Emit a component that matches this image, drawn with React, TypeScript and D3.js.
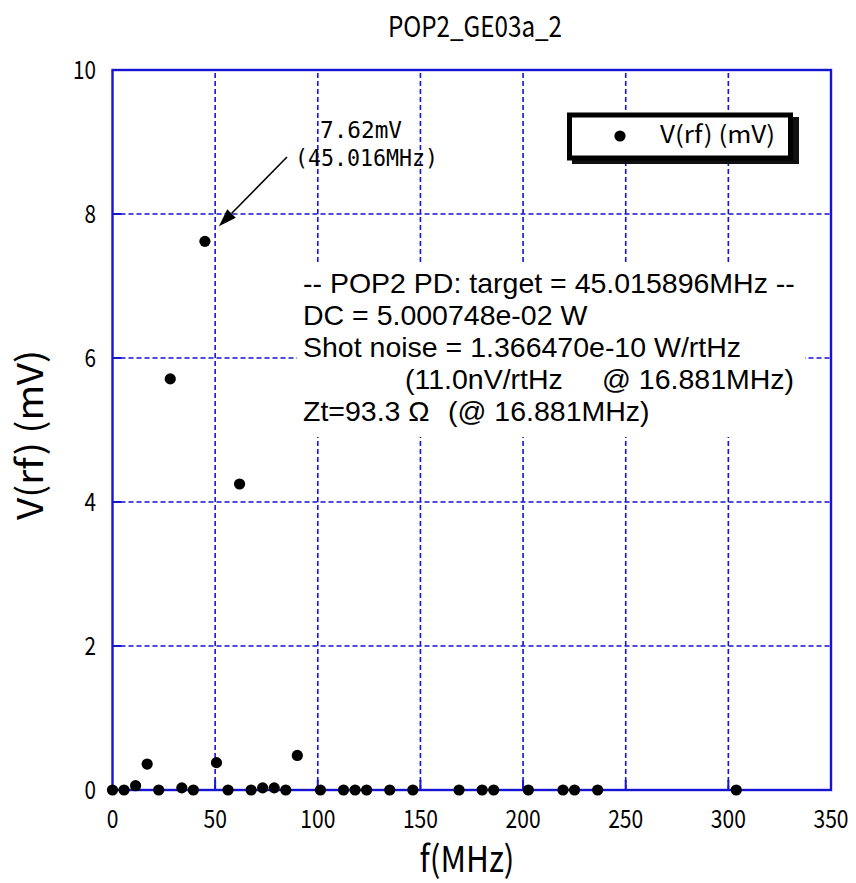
import React from 'react';
import * as d3 from 'd3';

const freqMHz = [0, 5.63, 11.25, 16.88, 22.51, 28.13, 33.76, 39.39, 45.016, 50.64, 56.27, 61.9, 67.52, 73.15, 78.78, 84.4, 90.03, 101.29, 112.54, 118.17, 123.79, 135.05, 146.3, 168.81, 180.06, 185.69, 202.57, 219.45, 225.08, 236.33, 303.86];
const vrfMilliV = [0, 0, 0.06, 0.36, 0, 5.71, 0.03, 0, 7.62, 0.38, 0, 4.25, 0, 0.03, 0.03, 0, 0.48, 0, 0, 0, 0, 0, 0, 0, 0, 0, 0, 0, 0, 0, 0];
const xTicks = [0, 50, 100, 150, 200, 250, 300, 350];
const yTicks = [0, 2, 4, 6, 8, 10];
const title = 'POP2_GE03a_2';
const xLabel = 'f(MHz)';
const yLabel = 'V(rf) (mV)';
const legendLabel = 'V(rf) (mV)';
const peakLabel = ['7.62mV', '(45.016MHz)'];
const peakPoint = { f: 45.016, v: 7.62 };

const BLUE = '#1414d2';
const GOTHIC = '"Noto Sans CJK JP", sans-serif';
const MONO = '"DejaVu Sans Mono", "Liberation Mono", monospace';
const ARIAL = '"Liberation Sans", Arial, sans-serif';

function GText(props: any) {
  const { x, y, len, size, anchor = 'start', transform, children, family = GOTHIC } = props;
  return (
    <text x={x} y={y} fontFamily={family} fontSize={size} textAnchor={anchor}
      textLength={len} lengthAdjust="spacingAndGlyphs" transform={transform} fill="#000">
      {children}
    </text>
  );
}

export default function App() {
  const x = d3.scaleLinear().domain([0, 350]).range([112.5, 831]);
  const y = d3.scaleLinear().domain([0, 10]).range([790, 70]);
  const [x0, x1] = x.range();
  const [y0, y1] = y.range();

  const px = x(peakPoint.f);
  const py = y(peakPoint.v);
  // arrow
  const ax0 = 287, ay0 = 157;
  const ax1 = px + 14, ay1 = py - 15;
  const ang = Math.atan2(ay1 - ay0, ax1 - ax0);
  const hl = 18, hw = 6;
  const bx = ax1 - hl * Math.cos(ang), by = ay1 - hl * Math.sin(ang);
  const head = [
    [ax1, ay1],
    [bx + hw * Math.sin(ang), by - hw * Math.cos(ang)],
    [bx - hw * Math.sin(ang), by + hw * Math.cos(ang)],
  ].map(p => p.join(',')).join(' ');

  return (
    <svg width={856} height={883} style={{ position: 'absolute', left: 0, top: 0, background: '#fff' }}>
      <rect x={0} y={0} width={856} height={883} fill="#fff" />
      {/* title */}
      <GText x={475} y={37} len={174} size={29} anchor="middle">{title}</GText>

      {/* grid */}
      {xTicks.filter(t => t > 0 && t < 350).map(t => (
        <line key={'gx' + t} x1={x(t)} x2={x(t)} y1={y0} y2={y1} stroke={BLUE} strokeWidth={1.6} strokeDasharray="5,3" />
      ))}
      {yTicks.filter(t => t > 0 && t < 10).map(t => (
        <line key={'gy' + t} x1={x0} x2={x1} y1={y(t)} y2={y(t)} stroke={BLUE} strokeWidth={1.6} strokeDasharray="5,3" />
      ))}

      {/* info box background */}
      <rect x={297} y={263} width={508} height={174} fill="#fff" />

      {/* ticks */}
      {xTicks.filter(t => t > 0 && t < 350).map(t => (
        <line key={'tx' + t} x1={x(t)} x2={x(t)} y1={y0} y2={y0 - 10} stroke={BLUE} strokeWidth={2} />
      ))}
      {yTicks.filter(t => t > 0 && t < 10).map(t => (
        <line key={'ty' + t} x1={x0} x2={x0 + 9} y1={y(t)} y2={y(t)} stroke={BLUE} strokeWidth={2} />
      ))}
      {/* frame */}
      <rect x={x0} y={y1} width={x1 - x0} height={y0 - y1} fill="none" stroke={BLUE} strokeWidth={2.4} />

      {/* tick labels */}
      {xTicks.map(t => {
        const s = String(t);
        return <GText key={'lx' + t} x={x(t)} y={828} len={s.length * 11.7} size={25} anchor="middle">{s}</GText>;
      })}
      {yTicks.map(t => {
        const s = String(t);
        return <GText key={'ly' + t} x={96} y={y(t) + 8.5} len={s.length * 11.5} size={25} anchor="end">{s}</GText>;
      })}

      {/* axis labels */}
      <GText x={467} y={872} len={95} size={36} anchor="middle">{xLabel}</GText>
      <GText x={0} y={0} len={170} size={36} anchor="middle" transform="translate(43,435) rotate(-90)">{yLabel}</GText>

      {/* data points */}
      {freqMHz.map((f, i) => (
        <circle key={'p' + i} cx={x(f)} cy={y(vrfMilliV[i])} r={5.6} fill="#000" />
      ))}

      {/* annotation */}
      <GText x={361} y={138} len={82} size={23} anchor="middle" family={MONO}>{peakLabel[0]}</GText>
      <GText x={366.5} y={166} len={143} size={23} anchor="middle" family={MONO}>{peakLabel[1]}</GText>
      <line x1={ax0} y1={ay0} x2={bx} y2={by} stroke="#000" strokeWidth={1.6} />
      <polygon points={head} fill="#000" />

      {/* legend */}
      <rect x={572} y={117} width={227} height={47} fill="#111" />
      <rect x={569.5} y={115} width={221} height={43} fill="#fff" stroke="#000" strokeWidth={5} />
      <circle cx={620} cy={136} r={5.6} fill="#000" />
      <GText x={660} y={143} len={115} size={24}>{legendLabel}</GText>

      {/* info text */}
      <g fontFamily={ARIAL} fontSize={28.5} fill="#000">
        <text x={303} y={293}>-- POP2 PD: target = 45.015896MHz --</text>
        <text x={303} y={325}>DC = 5.000748e-02 W</text>
        <text x={303} y={357}>Shot noise = 1.366470e-10 W/rtHz</text>
        <text x={405} y={389}>(11.0nV/rtHz<tspan x={602}>@ 16.881MHz)</tspan></text>
        <text x={303} y={421}>Zt=93.3 Ω<tspan x={448}>(@ 16.881MHz)</tspan></text>
      </g>
    </svg>
  );
}
